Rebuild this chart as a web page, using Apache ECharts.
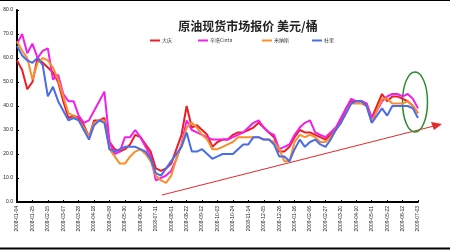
<!DOCTYPE html>
<html><head><meta charset="utf-8">
<script src="https://cdn.jsdelivr.net/npm/echarts@6/dist/echarts.min.js"></script>
<style>html,body{margin:0;padding:0;background:#fff}#c{width:450px;height:250px}</style>
</head><body><div id="c"></div>
<script>
const titleText = '原油现货市场报价 美元/桶';
const seriesNames = ['大庆', '辛塔Cinta', '米纳斯', '杜里'];
const seriesColors = ['#EE1C25', '#F020E8', '#F7902A', '#4A6CE8'];
const yTicks = [0, 10, 20, 30, 40, 50, 60, 70, 80];
const firstWeek = '2008-01-04';
const weekCount = 79;

const daqing = [59,55,47,50,60,58,56,54,50,42,35,36,35,32,27,34,34,35,25,22,21,22,24,28,27,24,21,14,13,14,16,22,28,40,31,32,30,28,23,25,26,26,28,29,29,30,31,33,31,29,27,21,21,23,27,30,29,29,28,27,26,28,30,34,39,42,42,42,41,35,40,45,42,44,44,43,42,40,37];
const cinta = [66,70,62,66,60,63,64,51,53,45,42,42,36,33,34,38,42,46,25,20,21,27,27,30,27,23,19,9,10,11,13,18,24,34,30,29,28,27,26,26,26,26,27,28,29,31,33,34,31,29,28,22,23,24,28,31,33,34,29,28,27,29,31,35,39,43,42,42,41,35,38,42,44,45,45,44,45,43,39];
const minas = [67,63,60,51,58,60,59,56,51,44,37,36,34,31,27,33,34,34,22,19,16,16,19,21,22,20,17,11,9,8,11,18,24,31,33,31,28,26,22,22,23,24,25,27,27,27,27,27,26,26,25,22,17,17,25,28,27,28,27,25,25,27,30,33,37,41,41,41,40,33,38,43,43,41,41,41,42,40,37];
const duri = [65,61,59,58,60,57,44,48,42,38,34,35,34,30,26,32,34,33,22,21,22,23,23,23,22,21,18,12,11,14,17,20,23,29,21,21,22,20,18,19,20,20,20,22,24,24,27,27,26,26,24,19,19,17,22,26,23,25,26,24,23,26,30,33,37,41,42,42,40,33,36,39,36,40,40,40,40,39,35];

const categories = [];
(function(){
  const d0 = new Date(firstWeek + 'T00:00:00Z');
  for (let i = 0; i < weekCount; i++) {
    const d = new Date(d0.getTime() + i * 7 * 86400000);
    categories.push(d.getUTCFullYear() + '-' + String(d.getUTCMonth()+1).padStart(2,'0') + '-' + String(d.getUTCDate()).padStart(2,'0'));
  }
})();

const allData = [daqing, cinta, minas, duri];
const legendLeft = [150, 198, 262, 312];

const chart = echarts.init(document.getElementById('c'), null, {renderer: 'canvas'});
chart.setOption({
  animation: false,
  backgroundColor: '#fff',
  title: {
    text: titleText, left: 243, top: 15, textAlign: 'center',
    textStyle: {fontSize: 12, fontWeight: 'bold', color: '#222', fontFamily: 'Noto Sans CJK SC'}
  },
  legend: seriesNames.map((n, i) => ({
    data: [n], left: legendLeft[i], top: 38, icon: 'rect', itemWidth: 10, itemHeight: 2, itemGap: 2,
    textStyle: {fontSize: 5, color: '#333', fontFamily: 'Noto Sans CJK SC', padding: [0,0,0,-3]},
    padding: 0
  })),
  grid: {left: 17, right: 32, top: 10, bottom: 48, containLabel: false},
  xAxis: {
    type: 'category', data: categories, boundaryGap: false,
    axisLine: {lineStyle: {color: '#000', width: 2}},
    axisTick: {inside: true, length: 2, interval: 2, lineStyle: {color: '#000'}},
    axisLabel: {interval: 2, rotate: 90, fontSize: 5, color: '#222', margin: 4, fontFamily: 'Liberation Sans'},
    splitLine: {show: false}
  },
  yAxis: {
    type: 'value', min: yTicks[0], max: yTicks[yTicks.length-1], interval: 10,
    axisLine: {show: true, lineStyle: {color: '#000', width: 2}},
    axisTick: {show: true, inside: true, length: 2, lineStyle: {color: '#000'}},
    axisLabel: {fontSize: 5, color: '#222', margin: 4, formatter: v => v.toFixed(1), fontFamily: 'Liberation Sans'},
    splitLine: {show: false}
  },
  series: allData.map((d, i) => ({
    name: seriesNames[i], type: 'line', data: d, symbol: 'none',
    lineStyle: {width: 2, color: seriesColors[i]}, itemStyle: {color: seriesColors[i]}, z: 2 + (i === 0 ? 0 : 0)
  })),
  graphic: [
    {type: 'line', shape: {x1: 0, y1: 0.5, x2: 450, y2: 0.5}, style: {stroke: '#000', lineWidth: 1}},
    {type: 'line', shape: {x1: 0, y1: 248.5, x2: 450, y2: 248.5}, style: {stroke: '#000', lineWidth: 2}},
    {type: 'line', shape: {x1: 162, y1: 195, x2: 434, y2: 126}, style: {stroke: '#E8282A', lineWidth: 1}},
    {type: 'polygon', shape: {points: [[442, 124], [431, 122], [434, 130]]}, style: {fill: '#E8282A'}},
    {type: 'ellipse', shape: {cx: 415, cy: 102, rx: 12.5, ry: 30}, style: {stroke: '#2E8B2E', lineWidth: 1.5, fill: 'none'}}
  ]
});
</script></body></html>
